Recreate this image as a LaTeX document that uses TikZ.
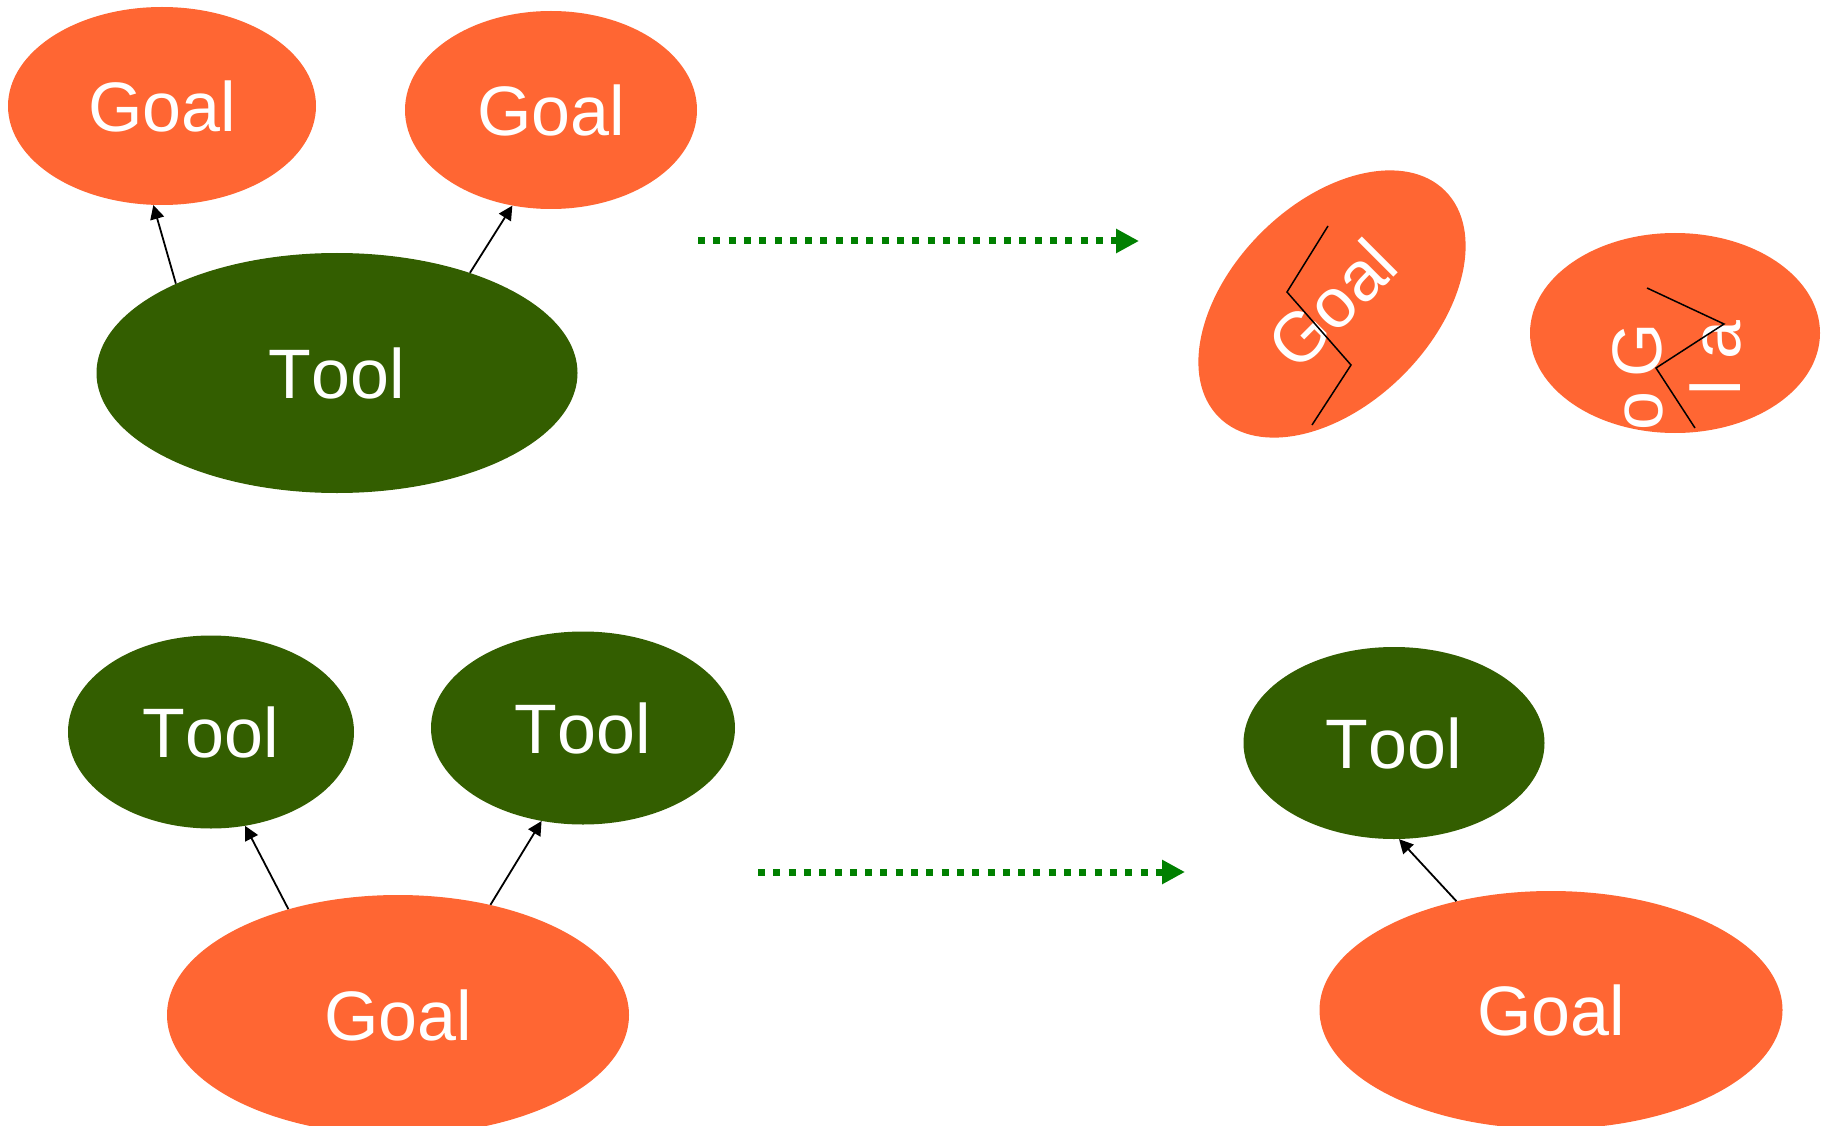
\documentclass[tikz,border=0pt]{standalone}
\usepackage{fontspec}
\setmainfont[Kerning=Off]{Liberation Sans}
\usetikzlibrary{arrows.meta,shapes.geometric}
\definecolor{goalorange}{RGB}{255,102,51}
\definecolor{tooldark}{RGB}{51,94,0}
\definecolor{flowgreen}{RGB}{0,128,0}
\begin{document}
\begin{tikzpicture}[x=1pt,y=-1pt,
  blob/.style={ellipse, inner sep=0pt, text=white, font=\fontsize{70}{74}\selectfont},
  goalblob/.style={blob, fill=goalorange},
  toolblob/.style={blob, fill=tooldark},
  letter/.style={inner sep=0pt, text=white, font=\fontsize{70}{74}\selectfont, rotate=90},
  link/.style={draw=black, line width=1.8pt, -{Triangle[length=14pt,width=14pt]}},
  flow/.style={draw=flowgreen, line width=7pt, dash pattern=on 7pt off 8.3pt, -{Triangle[length=23pt,width=23pt]}},
  scrawl/.style={draw=black, line width=1.5pt}]
\useasboundingbox (0,0) rectangle (1821,1126);

% top row, left
\node[goalblob, minimum width=308pt, minimum height=198pt] (goalA) at (162,106) {Goal};
\node[goalblob, minimum width=292pt, minimum height=198pt] (goalB) at (551,110) {Goal};
\node[toolblob, minimum width=481pt, minimum height=240pt] (toolA) at (337,373) {Tool};
\draw[link] (toolA.151) -- (goalA.265);
\draw[link] (toolA.37) -- (goalB.248);

% top transition
\coordinate (flowAs) at (698,241);
\coordinate (flowAe) at (1139,241);
\draw[flow] (flowAs) -- (flowAe);

% top row, right
\node[goalblob, minimum width=320pt, minimum height=201pt, rotate=45] (goalC) at (1332,304) {Goal};
\node[goalblob, minimum width=290pt, minimum height=200pt] (goalD) at (1675,333) {};
\node[letter] (lG) at (1637,350) {G};
\node[letter] (lo) at (1644,411) {o};
\node[letter] (la) at (1722,340) {a};
\node[letter] (ll) at (1715,388) {l};
\draw[scrawl] (1328,226) -- (1287,292) -- (1351,365) -- (1312,425);
\draw[scrawl] (1647,288) -- (1724,324) -- (1656,368) -- (1695,428);

% bottom row, left
\node[toolblob, minimum width=286pt, minimum height=193pt] (toolB) at (211,732) {Tool};
\node[toolblob, minimum width=304pt, minimum height=193pt] (toolC) at (583,728) {Tool};
\node[goalblob, minimum width=462pt, minimum height=240pt] (goalE) at (398,1015) {Goal};
\draw[link] (goalE.136) -- (toolB.290);
\draw[link] (goalE.50) -- (toolC.246);

% bottom transition
\coordinate (flowBs) at (758,872);
\coordinate (flowBe) at (1185,872);
\draw[flow] (flowBs) -- (flowBe);

% bottom row, right
\node[toolblob, minimum width=301pt, minimum height=192pt] (toolD) at (1394,743) {Tool};
\node[goalblob, minimum width=463pt, minimum height=238pt] (goalF) at (1551,1010) {Goal};
\draw[link] (goalF.131) -- (toolD.273);
\end{tikzpicture}
\end{document}
